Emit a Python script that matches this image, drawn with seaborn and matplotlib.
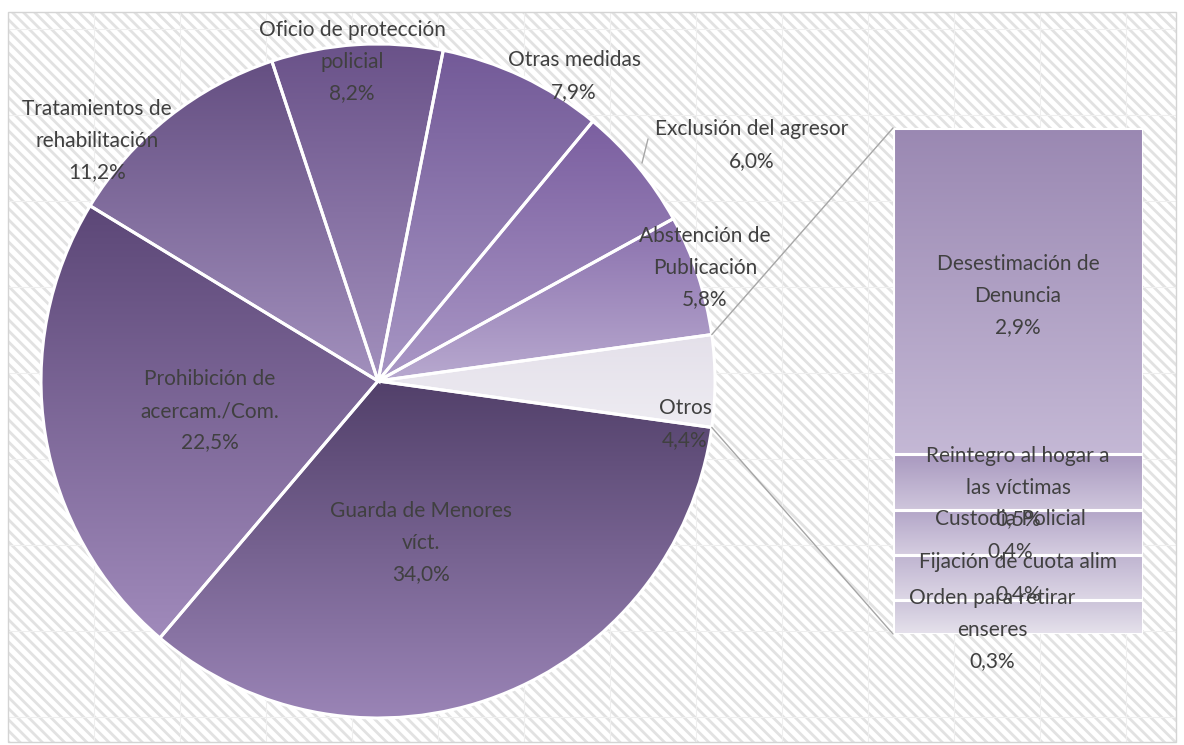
import numpy as np
import matplotlib
matplotlib.use("Agg")
import matplotlib.pyplot as plt
import seaborn as sns
from matplotlib.patches import Rectangle, ConnectionPatch
from matplotlib.colors import to_rgb

sns.set_theme(style="white")
plt.rcParams['font.family'] = ['Lato', 'DejaVu Sans']
plt.rcParams['hatch.linewidth'] = 2.0

# Pie data (clockwise from the right, "Otros" is the split slice)
pie_labels = ["Guarda de Menores\nvíct.", "Prohibición de\nacercam./Com.",
              "Tratamientos de\nrehabilitación", "Oficio de protección\npolicial",
              "Otras medidas", "Exclusión del agresor",
              "Abstención de\nPublicación", "Otros"]
pie_values = [34.0, 22.5, 11.2, 8.2, 7.9, 6.0, 5.8, 4.4]

# Secondary bar ("Otros" breakdown), bottom to top
bar_labels = ["Orden para retirar\nenseres", "Fijación de cuota alim",
              "Custodia Policial", "Reintegro al hogar a\nlas víctimas",
              "Desestimación de\nDenuncia"]
bar_values = [0.3, 0.4, 0.4, 0.5, 2.9]

# gradient colours (top, bottom)
pie_colors = [("#52406a", "#9a84b6"), ("#5c4777", "#a08abb"),
              ("#654f82", "#a290bd"), ("#6a5289", "#a290bd"),
              ("#735a98", "#a796c4"), ("#7b5fa0", "#aa98c6"),
              ("#8a70ad", "#b8a9cf"), ("#e4e0ea", "#eeecf2")]
bar_colors = [("#cbc3d9", "#e6e2ec"), ("#bfb4d0", "#ddd7e6"),
              ("#b3a6c8", "#d5cde0"), ("#a898bf", "#cfc6dc"),
              ("#9a88b2", "#c4b8d5")]

W, H = 1184, 745
def Y(y):
    return H - y

def pct(v):
    return f"{v:.1f}%".replace(".", ",")

def gradient(axis, patch, top, bottom):
    (x0, y0), (x1, y1) = patch.get_path().get_extents(patch.get_patch_transform()).get_points()
    t = np.linspace(0, 1, 256)[:, None]
    c = (1 - t) * np.array(to_rgb(top)) + t * np.array(to_rgb(bottom))
    im = axis.imshow(c[:, None, :], extent=(x0, x1, y0, y1), origin="upper",
                     aspect="auto", zorder=1.5, interpolation="bilinear")
    im.set_clip_path(patch)
    patch.set_facecolor("none")
    patch.set_zorder(2)

fig = plt.figure(figsize=(W / 100, H / 100), dpi=100)
ax = fig.add_axes([0, 0, 1, 1])
ax.set_axis_off()

# background: diagonal stripes with a faint grid
ax.add_patch(Rectangle((8, Y(742)), 1168, 730, facecolor="white",
                       edgecolor="#e2e2e2", hatch="\\\\\\", linewidth=0, zorder=0))
for gx in np.arange(8 + 86, 1176, 86):
    ax.plot([gx, gx], [Y(742), Y(12)], color="#efefef", lw=0.8, zorder=0.2)
for gy in np.arange(12 + 17, 742, 86):
    ax.plot([8, 1176], [Y(gy), Y(gy)], color="#efefef", lw=0.8, zorder=0.2)
ax.add_patch(Rectangle((8, Y(742)), 1168, 730, facecolor="none",
                       edgecolor="#d4d4d4", linewidth=1, zorder=0.3))

start = -pie_values[-1] / sum(pie_values) * 180
wedges, _ = ax.pie(pie_values, startangle=start, counterclock=False,
                   center=(378, Y(381)), radius=337,
                   wedgeprops=dict(edgecolor="white", linewidth=2.2))
for w, (c1, c2) in zip(wedges, pie_colors):
    gradient(ax, w, c1, c2)

txt = dict(ha="center", va="center", fontsize=15, color="#404040", linespacing=1.72)
pie_pos = [(421, 543), (210, 411), (97, 141), (352, 62), (574, 76),
           (752, 145), (705, 268), (685, 424)]
for lab, v, (px, py) in zip(pie_labels, pie_values, pie_pos):
    ax.text(px, Y(py), f"{lab}\n{pct(v)}", zorder=5, **txt)
ax.plot([642, 648], [Y(163), Y(139)], color="#a6a6a6", lw=1, zorder=5)

ax.set_xlim(0, W)
ax.set_ylim(0, H)

# secondary stacked bar
ax2 = fig.add_axes([893 / W, (H - 634) / H, 250 / W, 506 / H])
ax2.set_axis_off()
bottoms = np.concatenate([[0], np.cumsum(bar_values)[:-1]])
bars = ax2.bar(0, bar_values, bottom=bottoms, width=1.0,
               edgecolor="white", linewidth=2.2)
for b, (c1, c2) in zip(bars, bar_colors):
    gradient(ax2, b, c1, c2)
ax2.set_xlim(-0.5, 0.5)
ax2.set_ylim(0, sum(bar_values))

bar_pos = [(992, 630), (1018, 578), (1010, 535), (1018, 488), (1018, 296)]
for lab, v, (px, py) in zip(bar_labels, bar_values, bar_pos):
    t = ax2.text(px, Y(py), f"{lab}\n{pct(v)}", transform=ax.transData, zorder=5, **txt)
    t.set_clip_on(False)

# connector lines between the "Otros" slice and the bar
ang = np.deg2rad(-start)
for sgn, yb in [(1, sum(bar_values)), (-1, 0)]:
    p = (378 + 337 * np.cos(ang), Y(381) + sgn * 337 * np.sin(ang))
    con = ConnectionPatch(xyA=p, coordsA=ax.transData, xyB=(-0.5, yb),
                          coordsB=ax2.transData, color="#a6a6a6", lw=1)
    fig.add_artist(con)

fig.savefig("out.png", dpi=100)
